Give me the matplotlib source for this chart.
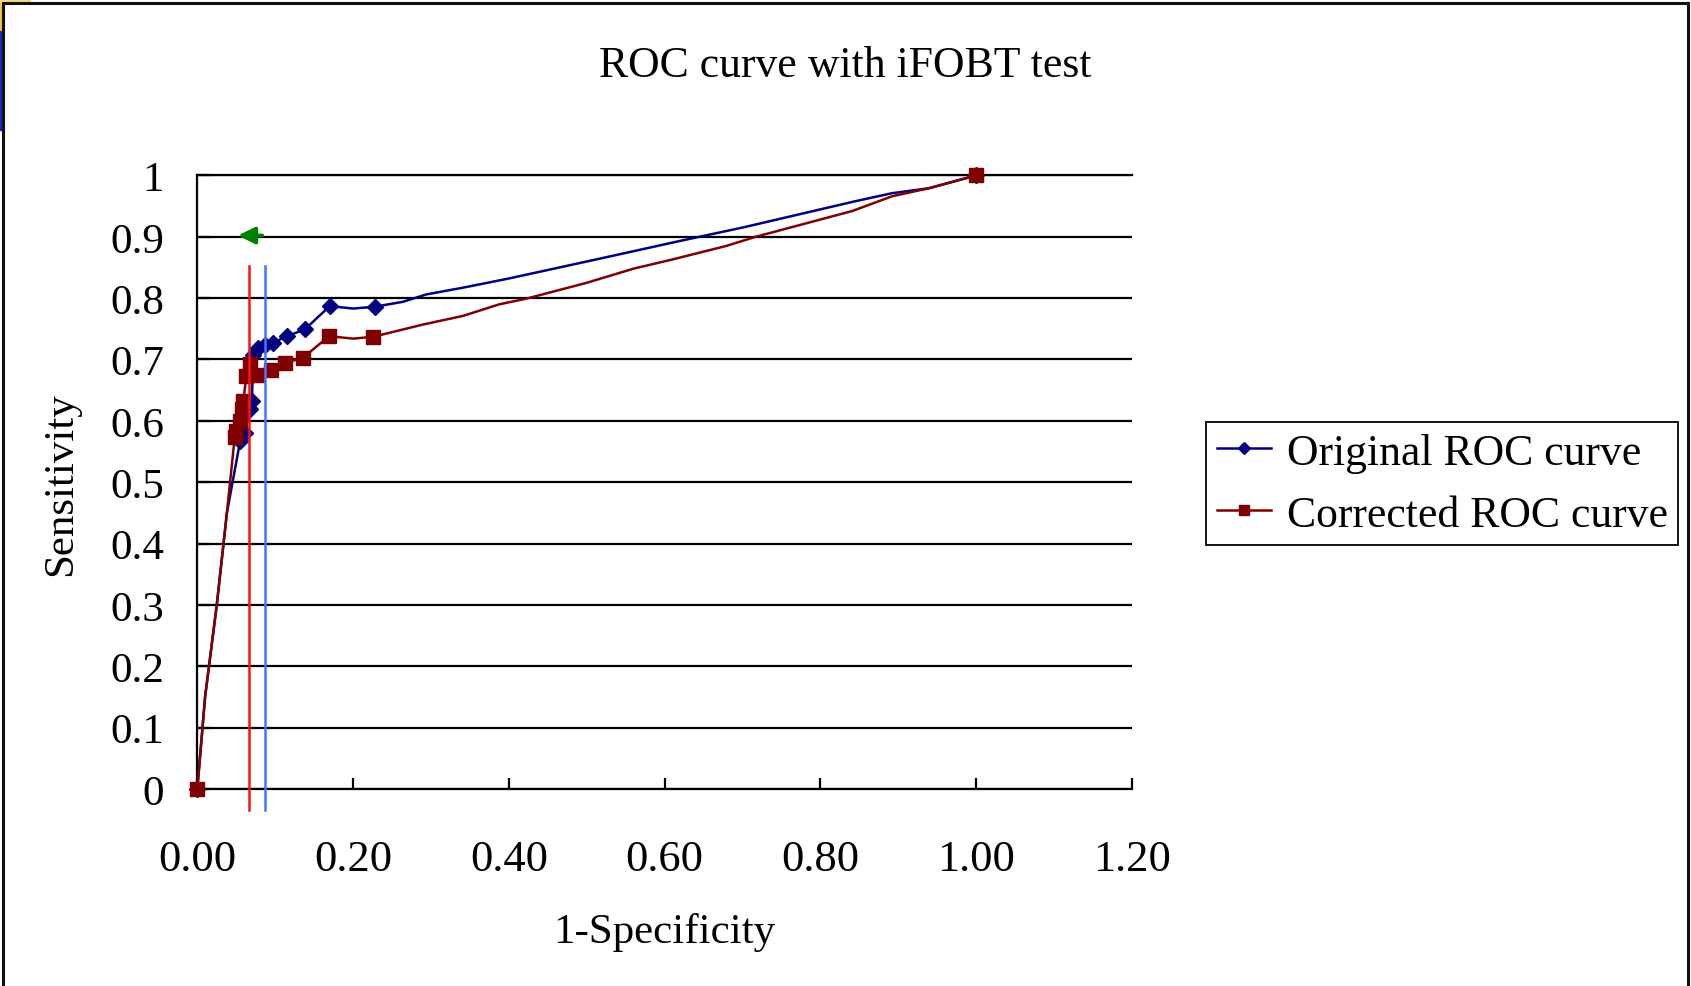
import numpy as np
import matplotlib.pyplot as plt
from matplotlib.lines import Line2D
from matplotlib.patches import Rectangle

plt.rcParams['font.family'] = ['Liberation Serif', 'DejaVu Serif']

# Data
# marked points (markers)
orig_mx = [0.0, 0.055, 0.061, 0.068, 0.070, 0.072, 0.078, 0.087, 0.097, 0.115, 0.138, 0.170, 0.228, 1.0]
orig_my = [0.0, 0.567, 0.580, 0.619, 0.632, 0.708, 0.718, 0.723, 0.727, 0.738, 0.749, 0.787, 0.786, 1.0]
corr_mx = [0.0, 0.048, 0.050, 0.055, 0.057, 0.059, 0.063, 0.068, 0.077, 0.094, 0.112, 0.136, 0.169, 0.226, 1.0]
corr_my = [0.0, 0.573, 0.584, 0.600, 0.619, 0.632, 0.673, 0.692, 0.674, 0.683, 0.694, 0.703, 0.738, 0.737, 1.0]

# line traces (smoothed line as drawn)
orig_lx = [0.0, 0.010, 0.025, 0.038, 0.055, 0.061, 0.068, 0.070, 0.072, 0.078, 0.087, 0.097, 0.115, 0.138,
           0.170, 0.200, 0.228, 0.264, 0.294, 0.341, 0.400, 0.512, 0.619, 0.700, 0.845, 0.892, 0.939, 1.0]
orig_ly = [0.0, 0.150, 0.300, 0.450, 0.567, 0.580, 0.619, 0.632, 0.708, 0.718, 0.723, 0.727, 0.738, 0.749,
           0.787, 0.783, 0.786, 0.794, 0.806, 0.817, 0.832, 0.863, 0.893, 0.915, 0.958, 0.971, 0.979, 1.0]
corr_lx = [0.0, 0.010, 0.025, 0.038, 0.048, 0.050, 0.055, 0.057, 0.059, 0.063, 0.068, 0.077, 0.094, 0.112,
           0.136, 0.169, 0.200, 0.226, 0.290, 0.341, 0.388, 0.422, 0.500, 0.560, 0.610, 0.679, 0.717, 0.841,
           0.892, 0.939, 1.0]
corr_ly = [0.0, 0.150, 0.300, 0.450, 0.573, 0.584, 0.600, 0.619, 0.632, 0.673, 0.692, 0.674, 0.683, 0.694,
           0.703, 0.738, 0.734, 0.737, 0.757, 0.771, 0.790, 0.799, 0.825, 0.848, 0.863, 0.885, 0.900, 0.942,
           0.966, 0.979, 1.0]

xticks = [0.0, 0.2, 0.4, 0.6, 0.8, 1.0, 1.2]
yticks = [0.0, 0.1, 0.2, 0.3, 0.4, 0.5, 0.6, 0.7, 0.8, 0.9, 1.0]
ytick_labels = ['0', '0.1', '0.2', '0.3', '0.4', '0.5', '0.6', '0.7', '0.8', '0.9', '1']

cut_red = 0.0667
cut_blue = 0.0864

W, H = 1691, 987
fig = plt.figure(figsize=(W / 100, H / 100), dpi=100)
ax = fig.add_axes([197.3 / W, 1 - 790 / H, (1132 - 197.3) / W, (790 - 176.4) / H])

navy = '#000080'
maroon = '#800000'

ax.plot(orig_lx, orig_ly, color=navy, lw=1.8, zorder=3, clip_on=False)
ax.plot(corr_lx, corr_ly, color=maroon, lw=1.8, zorder=3, clip_on=False)
ax.plot(orig_mx, orig_my, ls='none', marker='D', ms=8, color=navy, zorder=4, clip_on=False)
ax.plot(corr_mx, corr_my, ls='none', marker='s', ms=9.5, color=maroon, zorder=5, clip_on=False)

# legend proxies
h1 = Line2D([], [], color=navy, lw=1.8, marker='D', ms=6.5)
h2 = Line2D([], [], color=maroon, lw=1.8, marker='s', ms=7)

# cut-off markers
ax.plot([cut_red, cut_red], [0.852, -0.034], color='#FF1010', lw=1.8, zorder=6, clip_on=False)
ax.plot([cut_blue, cut_blue], [0.852, -0.034], color='#4477FF', lw=1.8, zorder=6, clip_on=False)
ax.annotate('', xy=(0.0487, 0.902), xytext=(0.087, 0.902),
            arrowprops=dict(arrowstyle='-|>,head_length=1.0,head_width=0.5', color='#008000', lw=2.8),
            zorder=6)

ax.set_xlim(0, 1.2)
ax.set_ylim(0, 1)
ax.set_xticks(xticks)
ax.set_xticklabels([f'{t:.2f}' for t in xticks])
ax.set_yticks(yticks)
ax.set_yticklabels(ytick_labels)
ax.yaxis.grid(True, color='black', lw=1.6)
ax.set_axisbelow(True)
ax.spines['right'].set_visible(False)
for s in ['left', 'bottom', 'top']:
    ax.spines[s].set_color('black')
    ax.spines[s].set_linewidth(1.6)
ax.tick_params(axis='x', direction='in', length=8, width=1.6, labelsize=32, pad=36)
ax.tick_params(axis='y', direction='in', length=9, width=1.6, labelsize=31, pad=24)

ax.set_xlabel('1-Specificity', fontsize=31, va='center')
ax.xaxis.set_label_coords(0.5, -0.233)
ax.set_ylabel('Sensitivity', fontsize=31, va='center')
ax.yaxis.set_label_coords(-0.1458, 0.4987)

fig.text(845 / W, 1 - 66 / H, 'ROC curve with iFOBT test', fontsize=31.5, ha='center', va='center')

leg = fig.legend([h1, h2], ['Original ROC curve', 'Corrected ROC curve'],
                 loc='upper left', bbox_to_anchor=(1205.6 / W, 1 - 422.7 / H),
                 bbox_transform=fig.transFigure, borderaxespad=0, fontsize=31.5,
                 fancybox=False, framealpha=1, edgecolor='black', handlelength=1.25,
                 handletextpad=0.35, labelspacing=0.5, borderpad=0.25)
leg.get_frame().set_linewidth(1.3)

# slide frame
fig.add_artist(Line2D([2.5 / W, 2.5 / W], [0, 1 - 4.2 / H], color='#111111', lw=2.2, transform=fig.transFigure))
fig.add_artist(Line2D([2.5 / W, 1688 / W], [1 - 4.2 / H, 1 - 4.2 / H], color='#111111', lw=2.2, transform=fig.transFigure))
fig.add_artist(Line2D([1688 / W, 1688 / W], [0, 1 - 4.2 / H], color='#111111', lw=2.2, transform=fig.transFigure))
fig.add_artist(Rectangle((0, 1 - 32 / H), 1.5 / W, 32 / H, color='#F5C542', transform=fig.transFigure))
fig.add_artist(Rectangle((0, 1 - 131 / H), 2 / W, 99 / H, color='#2323B8', transform=fig.transFigure))
fig.add_artist(Rectangle((0, 1 - 3 / H), 30 / W, 3 / H, color='#F8D77A', transform=fig.transFigure))

fig.savefig('out.png', dpi=100)
